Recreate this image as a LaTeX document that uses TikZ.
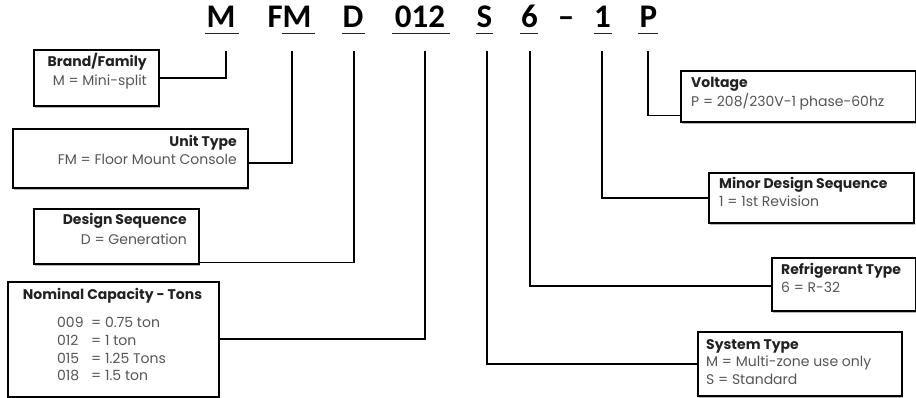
\documentclass[tikz,border=0pt]{standalone}
\usepackage{fontspec}
\setmainfont{Poppins}
\newfontfamily\codefont{Carlito}
\usetikzlibrary{shadows}
\definecolor{desc}{HTML}{555555}
\definecolor{ttl}{HTML}{222222}
\tikzset{
  code/.style={font=\codefont\bfseries\fontsize{33}{33}\selectfont, inner sep=0pt, anchor=base, text=black},
  uline/.style={line width=1.3pt, black!85},
  conn/.style={line width=1.7pt, black},
  box/.style={draw=black, line width=1.6pt, fill=white, rectangle, inner sep=0pt, anchor=north west,
    drop shadow={shadow xshift=1.5pt, shadow yshift=-2.5pt, fill=black, opacity=0.28}},
  ttl/.style={font=\fontsize{14}{16}\selectfont\bfseries, text=ttl, inner sep=0pt},
  dsc/.style={font=\fontsize{14}{16}\selectfont, text=desc, inner sep=0pt},
}
\begin{document}
\begin{tikzpicture}[x=1pt,y=-1pt]
\useasboundingbox (0,0) rectangle (916,398);
% code letters
\node[code] (lM) at (221,28) {M};
\node[code] (lFM) at (289.5,28) {FM};
\node[code] (lD) at (353,28) {D};
\node[code] (l012) at (420,28) {012};
\node[code] (lS) at (484.5,28) {S};
\node[code] (l6) at (529.5,28) {6};
\node[code] (ldash) at (566,28) {–};
\node[code] (l1) at (602.5,28) {1};
\node[code] (lP) at (648.5,28) {P};
\draw[uline] (205,33.5) -- (239,33.5);
\draw[uline] (282,33.5) -- (315,33.5);
\draw[uline] (342,33.5) -- (365,33.5);
\draw[uline] (392,33.5) -- (450,33.5);
\draw[uline] (476,33.5) -- (493,33.5);
\draw[uline] (520,33.5) -- (538,33.5);
\draw[uline] (594,33.5) -- (612,33.5);
\draw[uline] (638,33.5) -- (658,33.5);
% connector starts
\coordinate (sM) at (226,51);
\coordinate (sFM) at (292,51);
\coordinate (sD) at (354,51);
\coordinate (s012) at (425,51);
\coordinate (sS) at (487,51);
\coordinate (s6) at (530,51);
\coordinate (s1) at (602,51);
\coordinate (sP) at (648,51);
% boxes
\node[box, minimum width=125pt, minimum height=56pt] (brand) at (33,49) {};
\node[box, minimum width=235pt, minimum height=59pt] (unit) at (12,128) {};
\node[box, minimum width=165pt, minimum height=55pt] (design) at (33,208) {};
\node[box, minimum width=211pt, minimum height=115pt] (nominal) at (7,281) {};
\node[box, minimum width=235pt, minimum height=51pt] (voltage) at (680,70) {};
\node[box, minimum width=205pt, minimum height=50pt] (minor) at (708,172) {};
\node[box, minimum width=144pt, minimum height=53pt] (refrig) at (771,257) {};
\node[box, minimum width=204pt, minimum height=64pt] (system) at (697,331) {};
% connectors
\draw[conn] (sM) |- (brand.east);
\draw[conn] (sFM) |- ([yshift=-4.5pt]unit.east);
\draw[conn] (sD) |- ([yshift=2pt]design.south east);
\draw[conn] (s012) |- (nominal.east);
\draw[conn] (sP) |- ([yshift=7pt]voltage.south west);
\draw[conn] (s1) |- (minor.west);
\draw[conn] (s6) |- ([yshift=-1.5pt]refrig.west);
\draw[conn] (sS) |- (system.west);
% texts
\node[ttl, anchor=base east] (brandT) at (147,67) {Brand/Family};
\node[dsc, anchor=base east] (brandD) at (147,86) {M = Mini-split};
\node[ttl, anchor=base east] (unitT) at (237,147) {Unit Type};
\node[dsc, anchor=base east] (unitD) at (237,165) {FM = Floor Mount Console};
\node[ttl, anchor=base east] (designT) at (187,225) {Design Sequence};
\node[dsc, anchor=base east] (designD) at (187,244) {D = Generation};
\node[ttl, anchor=base] (nomT) at (112.5,299) {Nominal Capacity - Tons};
\node[dsc, anchor=base west] (n1a) at (57,327) {009};
\node[dsc, anchor=base west] (n1b) at (91,327) {= 0.75 ton};
\node[dsc, anchor=base west] (n2a) at (57,345) {012};
\node[dsc, anchor=base west] (n2b) at (91,345) {= 1 ton};
\node[dsc, anchor=base west] (n3a) at (57,363) {015};
\node[dsc, anchor=base west] (n3b) at (91,363) {= 1.25 Tons};
\node[dsc, anchor=base west] (n4a) at (57,380) {018};
\node[dsc, anchor=base west] (n4b) at (91,380) {= 1.5 ton};
\node[ttl, anchor=base west] (voltT) at (691,88) {Voltage};
\node[dsc, anchor=base west] (voltD) at (691,107) {P = 208/230V-1 phase-60hz};
\node[ttl, anchor=base west] (minorT) at (719,189) {Minor Design Sequence};
\node[dsc, anchor=base west] (minorD) at (719,207) {1 = 1st Revision};
\node[ttl, anchor=base west] (refT) at (781,275) {Refrigerant Type};
\node[dsc, anchor=base west] (refD) at (781,292) {6 = R-32};
\node[ttl, anchor=base west] (sysT) at (706,349) {System Type};
\node[dsc, anchor=base west] (sysD1) at (706,366) {M = Multi-zone use only};
\node[dsc, anchor=base west] (sysD2) at (706,384) {S = Standard};
\end{tikzpicture}
\end{document}
